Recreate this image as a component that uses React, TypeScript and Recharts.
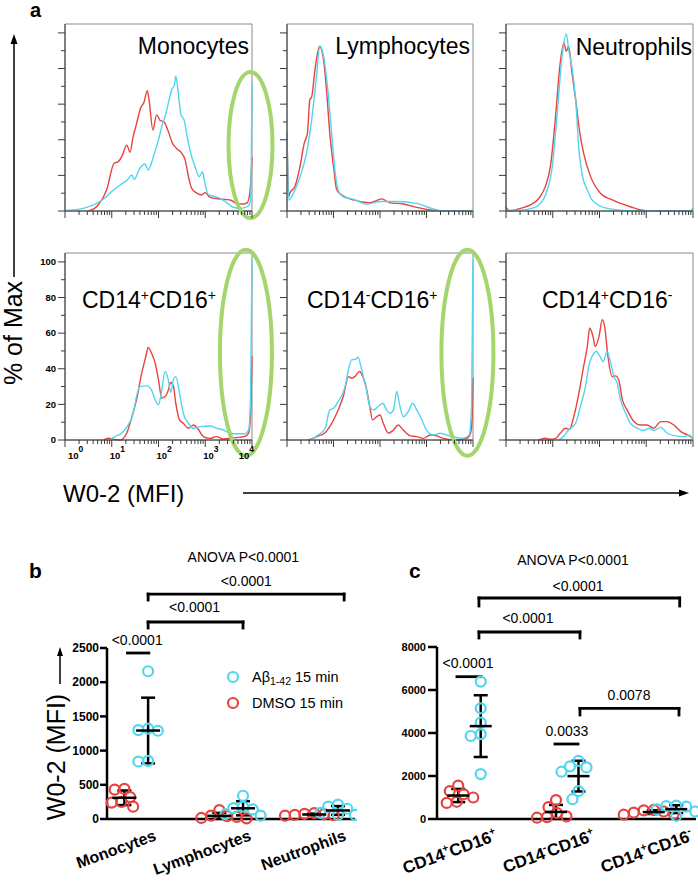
import React from 'react';
import {
  LineChart, Line, XAxis, YAxis, ReferenceArea, ReferenceDot, ReferenceLine,
  ScatterChart, Scatter, ErrorBar, Legend,
} from 'recharts';

const FONT = '"Liberation Sans", Arial, Helvetica, sans-serif';
const RED = '#e8433e';
const CYAN = '#52d5ef';
const GREEN = '#a3d66c';
const AXIS_GRAY = '#3a3a3a';
const FRAME_GRAY = '#8a8a8a';

type Pt = [number, number];

// ---------- Panel a : histograms, [log10(MFI), % of Max] ----------
const monoDmso: Pt[] = [[0.5,0],[0.71,3.4],[0.89,11.8],[1.05,26.8],[1.14,27.7],[1.23,31.5],[1.32,37],[1.39,33],[1.46,42],[1.53,49],[1.62,58],[1.69,61],[1.76,67.6],[1.8,62],[1.88,45.5],[1.96,54],[2.03,51],[2.12,50],[2.21,44.6],[2.3,38],[2.39,35],[2.5,32.4],[2.57,28.7],[2.64,19.3],[2.71,12.7],[2.82,10],[2.92,9],[3.0,10.3],[3.1,7.7],[3.32,6.7],[3.53,6.2],[3.67,4.3],[3.81,3.9],[3.9,4.7],[3.96,11.8],[4.0,30]];
const monoAb: Pt[] = [[0,0.3],[0.39,1.5],[0.61,3.4],[0.82,6.6],[1.0,10.9],[1.18,14.6],[1.33,17.4],[1.43,20.2],[1.48,17.8],[1.6,24],[1.71,26.4],[1.78,23],[1.89,30.5],[2.0,39.9],[2.07,47.4],[2.14,53],[2.21,60.5],[2.28,68],[2.34,70.8],[2.37,75.8],[2.42,67],[2.48,54],[2.55,51],[2.6,43.6],[2.69,32.4],[2.78,25],[2.87,19.3],[2.94,22],[3.0,14.6],[3.07,9],[3.17,8.4],[3.32,7.1],[3.46,4.7],[3.6,2.1],[3.74,1.5],[3.92,2.8],[3.97,6.2],[4.0,72]];
const lymphDmso: Pt[] = [[0,44],[0.04,8],[0.06,10],[0.17,13.7],[0.28,25],[0.37,38],[0.44,43.7],[0.49,62.5],[0.53,64],[0.6,79],[0.7,92.5],[0.78,86],[0.85,68],[0.92,43.7],[1.01,23],[1.07,11.8],[1.18,9],[1.43,6.2],[1.78,4.7],[2.04,6.8],[2.2,4.7],[2.5,3.9],[2.79,2],[3.08,0.6],[3.36,0],[4,0]];
const lymphAb: Pt[] = [[0,44],[0.04,6.2],[0.14,10],[0.28,19.3],[0.42,32.5],[0.53,51],[0.62,72],[0.71,92.5],[0.78,87.8],[0.87,70],[0.96,43.7],[1.03,23],[1.1,11.8],[1.21,8],[1.43,6.6],[1.71,3.9],[2.0,5.3],[2.36,5.3],[2.79,4.3],[3.0,2.4],[3.29,0.2],[3.5,0],[4,0]];
const neutDmso: Pt[] = [[0,2],[0.09,0],[0.31,1.5],[0.52,3.4],[0.7,7],[0.84,13.7],[0.95,25],[1.06,53],[1.15,81],[1.24,94.4],[1.29,89.7],[1.34,92.5],[1.41,78],[1.49,62.5],[1.58,43.7],[1.66,32.5],[1.81,19.3],[2.02,10],[2.24,6.6],[2.45,4.3],[2.66,2.4],[2.88,0.6],[3.1,0],[3.95,0],[4.0,1.5]];
const neutAb: Pt[] = [[0,0.5],[0.3,0.5],[0.56,1.5],[0.74,4.3],[0.86,10],[0.99,25],[1.09,53],[1.2,87],[1.29,99.4],[1.34,90.6],[1.41,81],[1.49,62.5],[1.56,34.3],[1.63,20.3],[1.74,11.8],[1.84,6.2],[2.02,2.8],[2.31,0.9],[2.74,0],[3.98,0],[4.0,1.5]];
const dpDmso: Pt[] = [[0.82,0],[0.93,1],[1.03,0.5],[1.18,0],[1.32,3.8],[1.43,13],[1.53,22.5],[1.64,37.5],[1.73,47],[1.78,52],[1.85,48.8],[1.93,43],[2.0,33.8],[2.07,23.5],[2.14,24.4],[2.21,28],[2.26,32.3],[2.32,30],[2.37,20.6],[2.45,11.3],[2.53,9.4],[2.64,6.6],[2.75,8.4],[2.85,6],[2.96,1.9],[3.1,0.9],[3.24,1.9],[3.39,0.6],[3.55,1],[3.7,1.5],[3.85,2],[3.93,4],[3.97,15],[4.0,47]];
const dpAb: Pt[] = [[0.96,0],[1.07,1.9],[1.21,3.8],[1.35,8.4],[1.46,15],[1.53,24.4],[1.6,30],[1.75,30.4],[1.85,28],[1.93,22.5],[2.0,19.7],[2.07,28],[2.14,38.5],[2.21,33.8],[2.26,26.6],[2.32,33.8],[2.37,35.6],[2.45,26.3],[2.53,15],[2.64,9.4],[2.75,6.6],[2.89,7.5],[3.1,7.9],[3.24,6.6],[3.39,5.6],[3.53,3.8],[3.7,3.5],[3.85,3.5],[3.93,6],[3.97,25],[4.0,101]];
const nmDmso: Pt[] = [[0.46,0],[0.64,1.9],[0.82,4.1],[0.92,7.5],[1.07,15],[1.21,24.4],[1.32,35.6],[1.39,34.7],[1.46,35.6],[1.56,38.5],[1.63,35.6],[1.7,30],[1.78,18.8],[1.84,11.3],[1.93,13.1],[2.0,14],[2.07,9.4],[2.18,3.8],[2.29,5.6],[2.39,8.4],[2.5,5.6],[2.65,2.3],[2.79,1.9],[2.93,0.9],[3.08,2.8],[3.22,2.3],[3.36,0.9],[3.65,0],[3.8,0.5],[3.9,1.5],[3.95,4],[3.98,12],[4.0,35]];
const nmAb: Pt[] = [[0.49,0],[0.67,2.8],[0.82,6.6],[0.92,16.9],[1.0,17.8],[1.1,21.6],[1.25,30],[1.32,39.4],[1.39,45],[1.48,45.4],[1.53,46.5],[1.59,41.3],[1.64,35.6],[1.71,28],[1.78,18.8],[1.86,16.9],[1.96,18.8],[2.06,20.6],[2.14,16.9],[2.22,15],[2.29,16.9],[2.36,27.2],[2.43,18.8],[2.5,13.1],[2.61,16],[2.7,20.6],[2.79,16.9],[2.9,11.3],[3.0,5.6],[3.15,2.8],[3.29,3.8],[3.43,2.8],[3.58,1.9],[3.72,1],[3.85,1.5],[3.92,3],[3.97,20],[4.0,101]];
const pmDmso: Pt[] = [[0.7,0],[0.84,1],[0.95,0.4],[1.06,0.9],[1.16,3.8],[1.27,6.6],[1.36,6],[1.45,13.1],[1.56,26.3],[1.66,41.3],[1.74,52.5],[1.79,62.9],[1.86,58.2],[1.91,52.5],[1.99,58.2],[2.06,67.5],[2.11,63.6],[2.18,46.9],[2.27,35.6],[2.34,36],[2.41,33.8],[2.49,22.5],[2.59,16.9],[2.74,10.3],[2.88,8.4],[3.02,8.4],[3.16,6.6],[3.31,10.3],[3.45,10.3],[3.59,8.4],[3.74,4.7],[3.88,2.8],[4.0,0.9]];
const pmAb: Pt[] = [[1.13,0],[1.24,2.3],[1.34,5.6],[1.49,9.4],[1.59,18.8],[1.7,30],[1.77,41.3],[1.84,46.9],[1.94,49.7],[2.01,46.9],[2.08,44],[2.16,49.7],[2.24,43.2],[2.31,35.6],[2.38,31.9],[2.45,22.5],[2.56,15],[2.66,9.4],[2.81,6.6],[2.95,5.3],[3.06,6.6],[3.16,5.3],[3.31,7.1],[3.45,3.8],[3.63,2.3],[3.81,1.9],[3.91,2.8],[4.0,0.9]];

const PCT_TICKS = [0, 10, 20, 30, 40, 50, 60, 70, 80, 90, 100];
const LOG_TICKS: number[] = [];
for (let d = 0; d < 4; d++) for (let m = 1; m <= 9; m++) LOG_TICKS.push(d + Math.log10(m));
LOG_TICKS.push(4);

// ---------- Panels b, c : dot plots ----------
const CATS_B = ['Monocytes', 'Lymphocytes', 'Neutrophils'];
const B_DMSO = [[440, 430, 320, 250, 240, 180], [130, 50, 40, 30, 15, 10], [85, 75, 70, 60, 55, 50]];
const B_AB = [[2160, 1320, 1300, 1290, 850, 840], [340, 180, 160, 140, 70, 50], [210, 180, 150, 90, 60, 60]];
const B_TICKS = [0, 500, 1000, 1500, 2000, 2500];
const B_TEXTS = [
  { x: 0.01, y: 2544, t: '<0.0001' }, { x: 0.615, y: 3026, t: '<0.0001' },
  { x: 1.16, y: 3406, t: '<0.0001' }, { x: 1.128, y: 3757, t: 'ANOVA P<0.0001' },
];
const B_LINES = [
  { x1: -0.092, x2: 0.133, y: 2427, leg: 0 },
  { x1: 0.125, x2: 1.125, y: 2880, leg: 88 },
  { x1: 0.125, x2: 2.19, y: 3289, leg: 88 },
];

const CATS_C = ['CD14^+CD16^+', 'CD14^-CD16^+', 'CD14^+CD16^-'];
const C_DMSO = [[1550, 1300, 1150, 1000, 800, 750], [880, 550, 280, 120, 90, 60], [420, 400, 350, 300, 250, 200]];
const C_AB = [[6390, 5150, 4480, 3950, 3860, 2090], [2700, 2450, 2400, 2200, 1300, 920], [620, 600, 580, 450, 350, 150]];
const C_TICKS = [0, 2000, 4000, 6000, 8000];
const C_TEXTS = [
  { x: 1.059, y: 11814, t: 'ANOVA P<0.0001' }, { x: 1.11, y: 10605, t: '<0.0001' },
  { x: 0.598, y: 9116, t: '<0.0001' }, { x: -0.015, y: 7023, t: '<0.0001' },
  { x: 0.997, y: 3860, t: '0.0033' }, { x: 1.632, y: 5535, t: '0.0078' },
];
const C_LINES = [
  { x1: -0.128, x2: 0.118, y: 6619, leg: 0 },
  { x1: 0.875, x2: 1.11, y: 3488, leg: 0 },
  { x1: 1.13, x2: 2.143, y: 5147, leg: 310 },
  { x1: 0.097, x2: 1.13, y: 8698, leg: 279 },
  { x1: 0.097, x2: 2.15, y: 10279, leg: 372 },
];

// ---------- helpers ----------
function Rich({ s, supSize, supDy }: { s: string; supSize: number; supDy: number }) {
  const tokens = s.split(/(\^.)/).filter((t) => t.length > 0);
  let raised = false;
  return (
    <>
      {tokens.map((t, i) => {
        if (t.startsWith('^')) {
          raised = true;
          return <tspan key={i} dy={-supDy} fontSize={supSize}>{t.slice(1)}</tspan>;
        }
        const dy = raised ? supDy : 0;
        raised = false;
        return <tspan key={i} dy={dy}>{t}</tspan>;
      })}
    </>
  );
}

const mean = (a: number[]) => a.reduce((s, v) => s + v, 0) / a.length;
const sd = (a: number[]) => {
  const m = mean(a);
  return Math.sqrt(a.reduce((s, v) => s + (v - m) * (v - m), 0) / (a.length - 1));
};

function swarm(values: number[], center: number, pxY: number, pxX: number, diam: number) {
  const order = [...values].sort((a, b) => b - a);
  const placed: { dx: number; py: number }[] = [];
  return order.map((v) => {
    const py = v * pxY;
    let dx = 0;
    for (let k = 0; k < 400; k++) {
      const c = k === 0 ? 0 : (k % 2 ? -1 : 1) * Math.ceil(k / 2) * 0.5;
      if (placed.every((q) => Math.hypot(q.dx - c, q.py - py) >= diam)) { dx = c; break; }
    }
    placed.push({ dx, py });
    return { x: center + dx / pxX, y: v };
  });
}

// ---------- histogram panel ----------
const H_PLOT_H = 187;
const H_YAXIS_W = 40;
const H_XAXIS_H = 40;
const H_TOP = 30;
const H_RIGHT = 30;

const HISTS = [
  { title: 'Monocytes', dmso: monoDmso, ab: monoAb, left: 65, top: 24, w: 187, labels: false, ellipse: { x: 3.968, y: 37, rx: 22, ry: 73 }, tx: 249, ty: 54, anchor: 'end' },
  { title: 'Lymphocytes', dmso: lymphDmso, ab: lymphAb, left: 287, top: 24, w: 186, labels: false, ellipse: null, tx: 470, ty: 54, anchor: 'end' },
  { title: 'Neutrophils', dmso: neutDmso, ab: neutAb, left: 506, top: 24, w: 187, labels: false, ellipse: null, tx: 692, ty: 55, anchor: 'end' },
  { title: 'CD14^+CD16^+', dmso: dpDmso, ab: dpAb, left: 65, top: 253, w: 187, labels: true, ellipse: { x: 3.87, y: 49, rx: 26, ry: 103 }, tx: 82, ty: 308, anchor: 'start' },
  { title: 'CD14^-CD16^+', dmso: nmDmso, ab: nmAb, left: 287, top: 253, w: 186, labels: false, ellipse: { x: 3.88, y: 49, rx: 26, ry: 103 }, tx: 307, ty: 308, anchor: 'start' },
  { title: 'CD14^+CD16^-', dmso: pmDmso, ab: pmAb, left: 506, top: 253, w: 187, labels: false, ellipse: null, tx: 542, ty: 308, anchor: 'start' },
];

function LogTick(props: any) {
  const { x, y, payload, showLabel } = props;
  const v = payload.value as number;
  const k = Math.round(v);
  const major = Math.abs(v - k) < 1e-6;
  const len = major ? 7 : 4;
  return (
    <g>
      <line x1={x} x2={x} y1={y} y2={y + len} stroke={AXIS_GRAY} strokeWidth={1} />
      {showLabel && major && (
        <text
          x={k === 0 ? x + 3 : k === 4 ? x + 2 : x - 2}
          y={y + 19}
          textAnchor={k === 4 ? 'end' : 'start'}
          fontSize={9.5}
          fontWeight="bold"
          fontFamily={FONT}
          fill="#000"
        >
          10<tspan dy={-7} fontSize={8.5}>{k}</tspan>
        </text>
      )}
    </g>
  );
}

function PctTick(props: any) {
  const { x, y, payload, showLabel } = props;
  const v = payload.value as number;
  const major = v % 20 === 0;
  const len = major ? 7 : 4;
  return (
    <g>
      <line x1={x - len} x2={x} y1={y} y2={y} stroke={AXIS_GRAY} strokeWidth={1} />
      {showLabel && major && (
        <text x={x - 9} y={y} dy="0.35em" textAnchor="end" fontSize={9.5} fontWeight="bold" fontFamily={FONT} fill="#000">
          {v}
        </text>
      )}
    </g>
  );
}

function Histogram({ p }: { p: (typeof HISTS)[number] }) {
  const W = H_YAXIS_W + p.w + H_RIGHT;
  const H = H_TOP + H_PLOT_H + H_XAXIS_H;
  const dmso = p.dmso.map(([x, y]) => ({ x, y }));
  const ab = p.ab.map(([x, y]) => ({ x, y }));
  const el = p.ellipse;
  return (
    <div style={{ position: 'absolute', left: p.left - H_YAXIS_W, top: p.top - H_TOP }}>
      <LineChart width={W} height={H} margin={{ top: H_TOP, right: H_RIGHT, bottom: 0, left: 0 }}>
        <XAxis
          type="number" dataKey="x" domain={[0, 4]} ticks={LOG_TICKS} interval={0}
          tickSize={0} tickMargin={0} tickLine={false} height={H_XAXIS_H}
          axisLine={{ stroke: AXIS_GRAY }}
          tick={(t: any) => <LogTick {...t} showLabel={p.labels} />}
        />
        <YAxis
          type="number" domain={[0, 105]} ticks={PCT_TICKS} interval={0}
          tickSize={0} tickMargin={0} tickLine={false} width={H_YAXIS_W}
          axisLine={{ stroke: AXIS_GRAY }}
          tick={(t: any) => <PctTick {...t} showLabel={p.labels} />}
        />
        <ReferenceArea x1={0} x2={4} y1={0} y2={105} fill="none" fillOpacity={0} stroke={FRAME_GRAY} strokeWidth={1} ifOverflow="visible" />
        <Line data={dmso} dataKey="y" type="monotone" stroke={RED} strokeWidth={1.4} dot={false} activeDot={false} isAnimationActive={false} />
        <Line data={ab} dataKey="y" type="monotone" stroke={CYAN} strokeWidth={1.4} dot={false} activeDot={false} isAnimationActive={false} />
        {el && (
          <ReferenceDot
            x={el.x} y={el.y} ifOverflow="visible"
            shape={(s: any) => <ellipse cx={s.cx} cy={s.cy} rx={el.rx} ry={el.ry} fill="none" stroke={GREEN} strokeWidth={4} />}
          />
        )}
      </LineChart>
    </div>
  );
}

// ---------- dot plot panel ----------
const DOT_TOP = 110;
const DOT_XAXIS_H = 64;
const DOT_RIGHT = 2;

const PLOT_B = {
  left: 107, right: 355, top: 648, bottom: 819, xDomain: [-0.308, 2.236] as [number, number],
  yMax: 2500, ticks: B_TICKS, yAxisW: 50, tickSize: 7, tickMargin: 1, tickFont: 12,
  off: 0.125, meanHalf: 12, cap: 7, labelDx: 21, labelFont: 16,
  cats: CATS_B, dmso: B_DMSO, ab: B_AB, texts: B_TEXTS, lines: B_LINES, legend: true,
};
const PLOT_C = {
  left: 437, right: 696, top: 647, bottom: 819, xDomain: [-0.332, 2.317] as [number, number],
  yMax: 8000, ticks: C_TICKS, yAxisW: 50, tickSize: 9, tickMargin: 2, tickFont: 11,
  off: 0.115, meanHalf: 11, cap: 7, labelDx: 29, labelFont: 17,
  cats: CATS_C, dmso: C_DMSO, ab: C_AB, texts: C_TEXTS, lines: C_LINES, legend: false,
};

function CatTick(props: any) {
  const { x, y, payload, cats, dx, font } = props;
  const label = cats[Math.round(payload.value)] ?? '';
  return (
    <g transform={`translate(${x + dx},${y + 21})`}>
      <text textAnchor="end" transform="rotate(-20)" fontSize={font} fontWeight="bold" fontFamily={FONT} fill="#000">
        <Rich s={label} supSize={font * 0.62} supDy={font * 0.42} />
      </text>
    </g>
  );
}

function LegendBox() {
  return (
    <svg width={140} height={50} style={{ display: 'block' }}>
      <circle cx={13} cy={12} r={5} fill="none" stroke={CYAN} strokeWidth={2.2} />
      <text x={32} y={17} fontSize={14.5} fontFamily={FONT} fill="#000">
        Aβ<tspan dy={3} fontSize={10.5}>1-42</tspan><tspan dy={-3} fontSize={14.5}> 15 min</tspan>
      </text>
      <circle cx={13} cy={38} r={5} fill="none" stroke={RED} strokeWidth={2.2} />
      <text x={32} y={43} fontSize={14.5} fontFamily={FONT} fill="#000">DMSO 15 min</text>
    </svg>
  );
}

function DotPlot({ c }: { c: typeof PLOT_B }) {
  const plotW = c.right - c.left;
  const plotH = c.bottom - c.top;
  const pxX = plotW / (c.xDomain[1] - c.xDomain[0]);
  const pxY = plotH / c.yMax;
  const dmsoPts = c.dmso.flatMap((g, gi) => swarm(g, gi - c.off, pxY, pxX, 10));
  const abPts = c.ab.flatMap((g, gi) => swarm(g, gi + c.off, pxY, pxX, 10));
  const means = [
    ...c.dmso.map((g, gi) => ({ x: gi - c.off, y: mean(g), err: sd(g) })),
    ...c.ab.map((g, gi) => ({ x: gi + c.off, y: mean(g), err: sd(g) })),
  ];
  const W = c.yAxisW + plotW + DOT_RIGHT;
  const H = DOT_TOP + plotH + DOT_XAXIS_H;
  const refEls: React.ReactElement[] = [];
  c.lines.forEach((l, i) => {
    refEls.push(
      <ReferenceLine key={`h${i}`} segment={[{ x: l.x1, y: l.y }, { x: l.x2, y: l.y }]} ifOverflow="visible" stroke="#000" strokeWidth={2.8} strokeLinecap="square" />
    );
    if (l.leg > 0) {
      refEls.push(
        <ReferenceLine key={`l${i}`} segment={[{ x: l.x1, y: l.y }, { x: l.x1, y: l.y - l.leg }]} ifOverflow="visible" stroke="#000" strokeWidth={2.8} strokeLinecap="square" />
      );
      refEls.push(
        <ReferenceLine key={`r${i}`} segment={[{ x: l.x2, y: l.y }, { x: l.x2, y: l.y - l.leg }]} ifOverflow="visible" stroke="#000" strokeWidth={2.8} strokeLinecap="square" />
      );
    }
  });
  c.texts.forEach((t, i) => {
    refEls.push(
      <ReferenceDot
        key={`t${i}`} x={t.x} y={t.y} ifOverflow="visible"
        shape={(s: any) => (
          <text x={s.cx} y={s.cy} textAnchor="middle" fontSize={14} fontFamily={FONT} fill="#000">{t.t}</text>
        )}
      />
    );
  });
  return (
    <div style={{ position: 'absolute', left: c.left - c.yAxisW, top: c.top - DOT_TOP }}>
      <ScatterChart width={W} height={H} margin={{ top: DOT_TOP, right: DOT_RIGHT, bottom: 0, left: 0 }}>
        <XAxis
          type="number" dataKey="x" domain={c.xDomain} ticks={[0, 1, 2]} interval={0}
          tickLine={false} tickSize={0} tickMargin={0} height={DOT_XAXIS_H}
          axisLine={{ stroke: '#000', strokeWidth: 2.5 }}
          tick={(t: any) => <CatTick {...t} cats={c.cats} dx={c.labelDx} font={c.labelFont} />}
        />
        <YAxis
          type="number" dataKey="y" domain={[0, c.yMax]} ticks={c.ticks} interval={0}
          width={c.yAxisW} tickSize={c.tickSize} tickMargin={c.tickMargin}
          axisLine={{ stroke: '#000', strokeWidth: 2.5 }}
          tickLine={{ stroke: '#000', strokeWidth: 2.5 }}
          tick={{ fontSize: c.tickFont, fontWeight: 'bold', fill: '#000', fontFamily: FONT }}
        />
        <Scatter
          name="DMSO 15 min" data={dmsoPts} isAnimationActive={false}
          shape={(s: any) => <circle cx={s.cx} cy={s.cy} r={5} fill="none" stroke={RED} strokeWidth={2.2} />}
        />
        <Scatter
          name="Aβ1-42 15 min" data={abPts} isAnimationActive={false}
          shape={(s: any) => <circle cx={s.cx} cy={s.cy} r={5} fill="none" stroke={CYAN} strokeWidth={2.2} />}
        />
        <Scatter
          name="mean" data={means} isAnimationActive={false}
          shape={(s: any) => <line x1={s.cx - c.meanHalf} x2={s.cx + c.meanHalf} y1={s.cy} y2={s.cy} stroke="#000" strokeWidth={2.5} />}
        >
          <ErrorBar dataKey="err" direction="y" width={c.cap} stroke="#000" strokeWidth={2.5} isAnimationActive={false} />
        </Scatter>
        {refEls}
        {c.legend && (
          <Legend
            layout="vertical" align="center" verticalAlign="middle"
            wrapperStyle={{ left: 163, top: 127, width: 140, height: 50 }}
            content={() => <LegendBox />}
          />
        )}
      </ScatterChart>
    </div>
  );
}

export default function App() {
  return (
    <div style={{ position: 'absolute', left: 0, top: 0, width: 698, height: 883, background: '#fff', overflow: 'hidden' }}>
      {HISTS.map((p, i) => <Histogram key={i} p={p} />)}
      <DotPlot c={PLOT_B} />
      <DotPlot c={PLOT_C} />
      <svg width={698} height={883} style={{ position: 'absolute', left: 0, top: 0, pointerEvents: 'none' }} fontFamily={FONT}>
        <text x={30} y={17} fontSize={20} fontWeight="bold" fill="#000">a</text>
        <text x={29} y={578} fontSize={21} fontWeight="bold" fill="#000">b</text>
        <text x={409} y={578} fontSize={21} fontWeight="bold" fill="#000">c</text>
        <line x1={14} y1={277} x2={14} y2={42} stroke="#000" strokeWidth={1.5} />
        <polygon points="14,34 10.5,44 17.5,44" fill="#000" />
        <text transform="translate(22,333) rotate(-90)" textAnchor="middle" fontSize={25} fill="#000">% of Max</text>
        <text x={63} y={502} fontSize={24} fill="#000">W0-2 (MFI)</text>
        <line x1={243} y1={493} x2={680} y2={493} stroke="#000" strokeWidth={1.5} />
        <polygon points="689,493 679,489.5 679,496.5" fill="#000" />
        <text transform="translate(65,757) rotate(-90)" textAnchor="middle" fontSize={25} fill="#000">W0-2 (MFI)</text>
        <line x1={60} y1={684} x2={60} y2={655} stroke="#000" strokeWidth={1.5} />
        <polygon points="60,647 57,656 63,656" fill="#000" />
        {HISTS.map((p, i) => (
          <text key={i} x={p.tx} y={p.ty} textAnchor={p.anchor as any} fontSize={23} fill="#000">
            <Rich s={p.title} supSize={14} supDy={8} />
          </text>
        ))}
      </svg>
    </div>
  );
}
